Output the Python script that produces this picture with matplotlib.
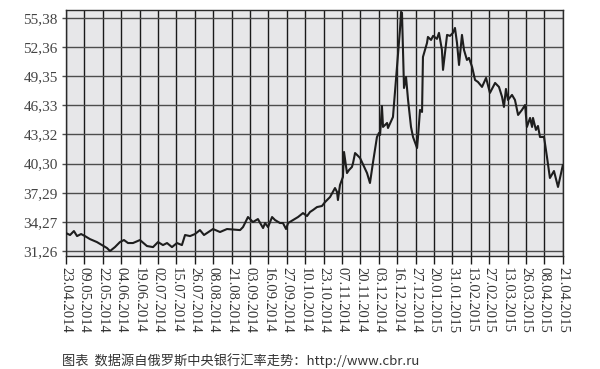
import matplotlib
matplotlib.use("Agg")
import matplotlib.pyplot as plt

# positions are in units of the (equally spaced) date ticks
pos = [0.00, 0.22, 0.43, 0.60, 0.82, 1.03, 1.30, 1.68, 1.96, 2.23, 2.39, 2.66, 2.93, 3.15,
       3.37, 3.64, 4.02, 4.40, 4.73, 5.00, 5.27, 5.49, 5.76, 6.03, 6.30, 6.47, 6.74, 7.01,
       7.28, 7.50, 7.99, 8.37, 8.75, 9.46, 9.62, 9.89, 10.16, 10.43, 10.71, 10.82, 10.98,
       11.20, 11.36, 11.63, 11.79, 11.96, 12.07, 12.34, 12.61, 12.88, 13.10, 13.26, 13.42,
       13.64, 13.91, 14.08, 14.35, 14.62, 14.73, 14.78, 14.89, 15.05, 15.11, 15.27, 15.38,
       15.54, 15.60, 15.71, 15.82, 15.98, 16.36, 16.52, 16.68, 16.90, 17.01, 17.07, 17.17,
       17.23, 17.45, 17.50, 17.77, 17.99, 18.15, 18.21, 18.26, 18.37, 18.48, 18.59, 18.75,
       18.86, 19.08, 19.13, 19.24, 19.35, 19.40, 19.62, 19.67, 19.84, 19.95, 20.16, 20.27,
       20.43, 20.49, 20.71, 20.87, 21.03, 21.14, 21.25, 21.36, 21.52, 21.63, 21.79, 21.90,
       22.07, 22.23, 22.39, 22.61, 22.83, 23.04, 23.32, 23.53, 23.70, 23.80, 23.91, 24.02,
       24.24, 24.40, 24.57, 24.78, 24.95, 25.05, 25.22, 25.33, 25.38, 25.54, 25.65, 25.76,
       25.98, 26.14, 26.30, 26.52, 26.74, 27.00]
rate = [33.12, 32.92, 33.33, 32.81, 33.02, 32.81, 32.50, 32.19, 31.88, 31.57, 31.26, 31.67,
        32.19, 32.40, 32.09, 32.09, 32.40, 31.78, 31.67, 32.19, 31.88, 32.09, 31.67, 32.09,
        31.88, 32.92, 32.81, 33.02, 33.43, 32.92, 33.54, 33.23, 33.54, 33.43, 33.74, 34.78,
        34.26, 34.57, 33.64, 34.16, 33.74, 34.78, 34.47, 34.16, 34.16, 33.54, 34.16, 34.47,
        34.78, 35.19, 34.88, 35.30, 35.50, 35.81, 35.92, 36.33, 36.85, 37.78, 37.37, 36.54,
        38.09, 38.92, 41.51, 39.33, 39.64, 39.96, 40.37, 41.40, 41.20, 40.89, 39.33, 38.30,
        40.37, 43.06, 43.48, 43.27, 46.27, 44.10, 44.51, 43.99, 45.13, 50.31, 54.14, 56.00,
        55.90, 48.13, 49.27, 46.89, 44.10, 43.06, 41.92, 43.06, 45.86, 45.65, 51.34, 52.79,
        53.41, 53.10, 53.52, 53.21, 53.83, 52.07, 50.00, 53.62, 53.52, 53.83, 54.34, 52.79,
        50.51, 53.62, 52.07, 51.03, 51.24, 50.31, 48.96, 48.75, 48.24, 49.17, 47.62, 48.65,
        48.24, 47.20, 46.17, 48.03, 46.89, 47.41, 46.89, 45.34, 45.86, 46.37, 44.10, 45.03,
        44.10, 45.03, 43.79, 44.20, 43.06, 43.06, 40.99, 38.82, 39.54, 37.89, 40.13]

date_labels = ["23.04.2014", "09.05.2014", "22.05.2014", "04.06.2014", "19.06.2014",
               "02.07.2014", "15.07.2014", "26.07.2014", "08.08.2014", "21.08.2014",
               "03.09.2014", "16.09.2014", "27.09.2014", "10.10.2014", "23.10.2014",
               "07.11.2014", "20.11.2014", "03.12.2014", "16.12.2014", "27.12.2014",
               "20.01.2015", "31.01.2015", "13.02.2015", "27.02.2015", "13.03.2015",
               "26.03.2015", "08.04.2015", "21.04.2015"]
y_ticks = [31.26, 34.27, 37.29, 40.30, 43.32, 46.33, 49.35, 52.36, 55.38]

caption = "图表  数据源自俄罗斯中央银行汇率走势：http://www.cbr.ru"

fig = plt.figure(figsize=(6, 3.69), dpi=100)
ax = fig.add_axes([0.11, 0.306, 0.828, 0.667])
ax.set_facecolor("#e7e7e9")

ax.set_xlim(0, len(date_labels) - 1)
ax.set_ylim(30.74, 56.2)

# grid
for i in range(len(date_labels)):
    ax.axvline(i, color="#1a1a1a", lw=1.0, zorder=1)
for v in y_ticks:
    ax.axhline(v, color="#4d4d4d", lw=1.0, zorder=1)

ax.plot(pos, rate, color="#1e1e1e", lw=1.5, zorder=3)

ax.set_xticks(range(len(date_labels)))
ax.set_xticklabels(date_labels, rotation=270, fontsize=10.5,
                   family="Liberation Serif", color="#333333")
ax.set_yticks(y_ticks)
ax.set_yticklabels([f"{v:.2f}".replace(".", ",") for v in y_ticks], fontsize=11,
                   family="Liberation Serif", color="#444444")
ax.tick_params(axis="x", direction="out", length=6, width=1, pad=2, color="#1a1a1a")
ax.tick_params(axis="y", direction="out", length=3, width=1, pad=3, color="#4d4d4d")

for side in ["left", "right", "top", "bottom"]:
    ax.spines[side].set_color("#2a2a2a")
    ax.spines[side].set_linewidth(1.0)

fig.text(62 / 600, 1 - 368 / 369, caption, fontsize=9.5, va="bottom", ha="left",
         family=["Noto Sans CJK SC", "DejaVu Sans"], color="#333333")

fig.savefig("out.png", dpi=100)
